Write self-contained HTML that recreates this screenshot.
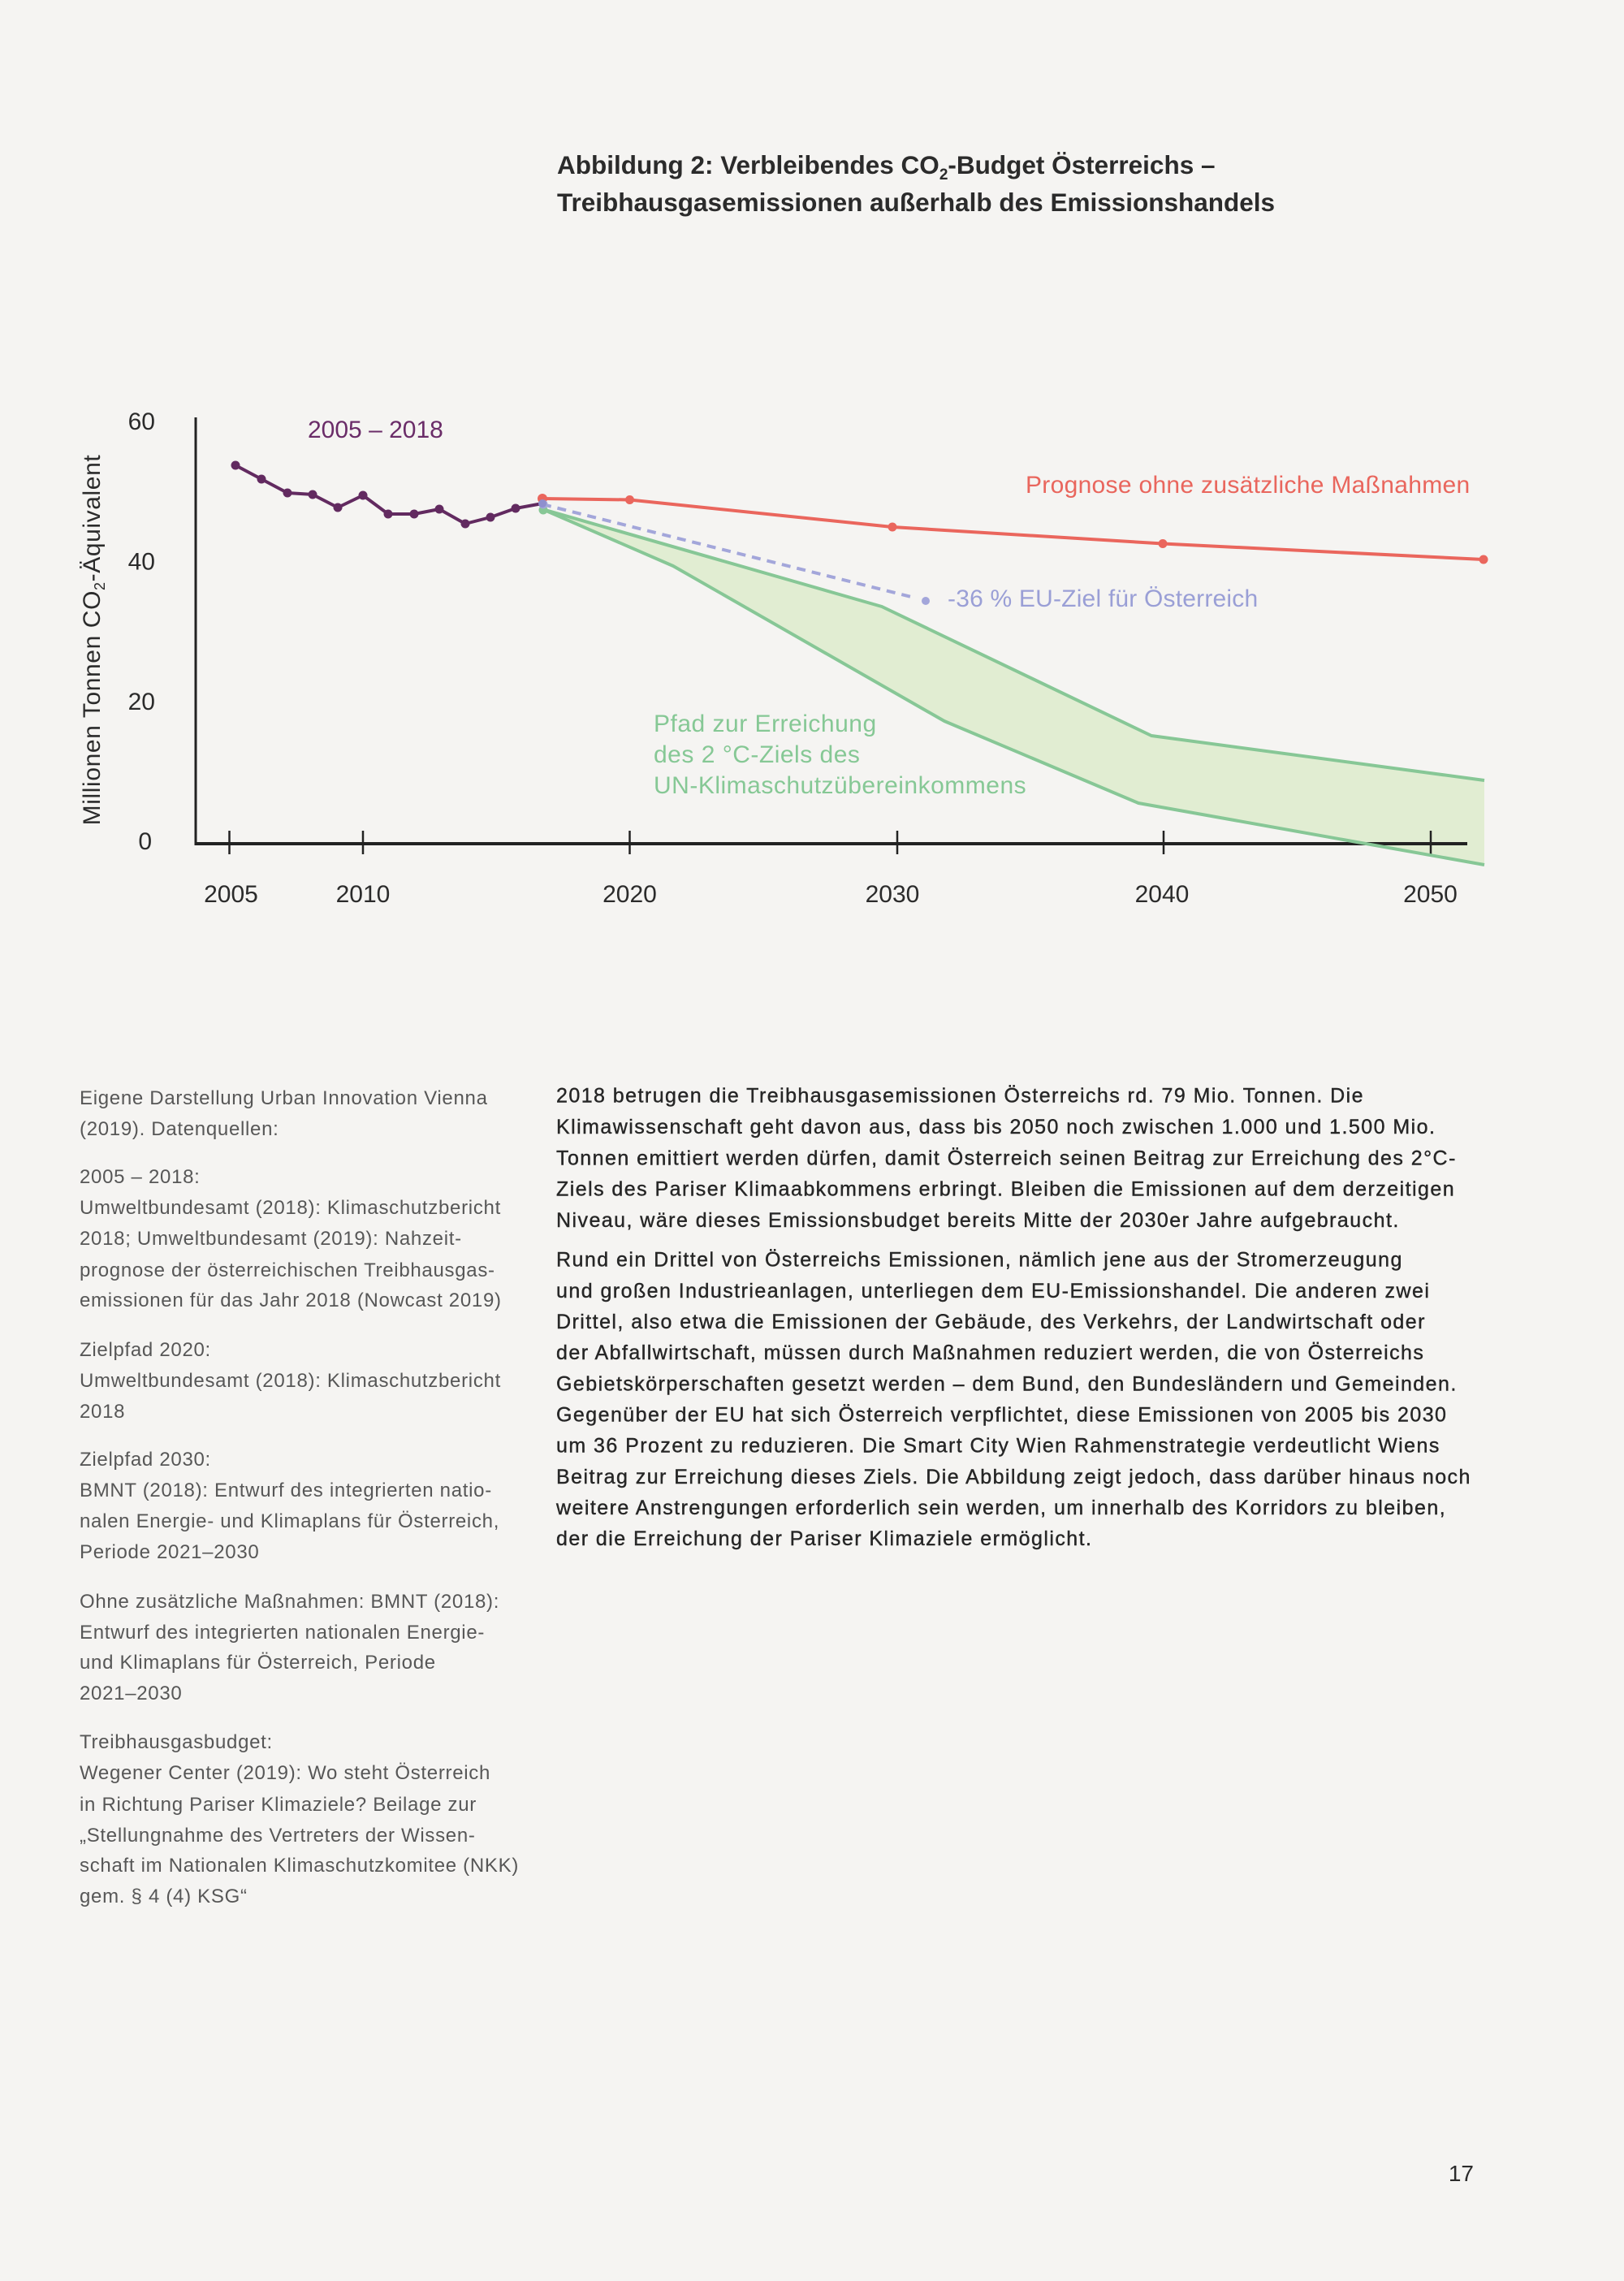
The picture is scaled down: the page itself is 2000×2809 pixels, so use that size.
<!DOCTYPE html>
<html>
<head>
<meta charset="utf-8">
<style>
  html,body{margin:0;padding:0;background:#f5f4f2;}
  svg{display:block;}
  text{font-family:"Liberation Sans",Arial,sans-serif;}
</style>
</head>
<body>
<svg width="2000" height="2809" viewBox="0 0 2000 2809" xmlns="http://www.w3.org/2000/svg">
  <rect x="0" y="0" width="2000" height="2809" fill="#f5f4f2"/>

  <!-- Title -->
  <g font-weight="bold" font-size="31.5" fill="#2b2b2b">
    <text x="686" y="214">Abbildung 2: Verbleibendes CO<tspan font-size="19" dy="7">2</tspan><tspan dy="-7">-Budget Österreichs –</tspan></text>
    <text x="686" y="260">Treibhausgasemissionen außerhalb des Emissionshandels</text>
  </g>

  <!-- Green corridor -->
  <polygon points="668,627 1086,747 1418,906 1828,961 1828,1065 1402,989 1163,888 829,697" fill="#e1edd2"/>

  <!-- Axes -->
  <line x1="241" y1="514" x2="241" y2="1041" stroke="#222" stroke-width="3"/>
  <line x1="239.5" y1="1039" x2="1807" y2="1039" stroke="#222" stroke-width="4"/>
  <g stroke="#222" stroke-width="2.5">
    <line x1="282.5" y1="1023" x2="282.5" y2="1052"/>
    <line x1="447" y1="1023" x2="447" y2="1052"/>
    <line x1="775.5" y1="1023" x2="775.5" y2="1052"/>
    <line x1="1105" y1="1023" x2="1105" y2="1052"/>
    <line x1="1433" y1="1023" x2="1433" y2="1052"/>
    <line x1="1762" y1="1023" x2="1762" y2="1052"/>
  </g>

  <!-- Green lines -->
  <g fill="none" stroke="#87c796" stroke-width="4" stroke-linejoin="round">
    <polyline points="668,627 1086,747 1418,906 1828,961"/>
    <polyline points="668,627 829,697 1163,888 1402,989 1828,1065"/>
  </g>
  <circle cx="669" cy="628" r="5.5" fill="#87c796"/>

  <!-- Blue dashed EU target -->
  <line x1="668" y1="621" x2="1126" y2="736" stroke="#a3a6da" stroke-width="4" stroke-dasharray="11 8"/>
  <circle cx="1140" cy="740" r="5" fill="#a3a6da"/>

  <!-- Red projection -->
  <polyline points="668,614 775.5,615.5 1099,649 1432,669.5 1827,689" fill="none" stroke="#ea665d" stroke-width="4" stroke-linejoin="round"/>
  <g fill="#ea665d">
    <circle cx="668" cy="614" r="6"/>
    <circle cx="775.5" cy="615.5" r="5.5"/>
    <circle cx="1099" cy="649" r="5.5"/>
    <circle cx="1432" cy="669.5" r="5.5"/>
    <circle cx="1827" cy="689" r="5.5"/>
  </g>
  <circle cx="669" cy="621" r="5.5" fill="#a3a6da"/>

  <!-- Purple history -->
  <polyline points="290,573 322,590 354,607 385,609 416,625 447,610 478,633 510,633 541,627 573,645 604,637 635,626 668,620" fill="none" stroke="#622a60" stroke-width="4" stroke-linejoin="round"/>
  <g fill="#622a60">
    <circle cx="290" cy="573" r="5.5"/>
    <circle cx="322" cy="590" r="5.5"/>
    <circle cx="354" cy="607" r="5.5"/>
    <circle cx="385" cy="609" r="5.5"/>
    <circle cx="416" cy="625" r="5.5"/>
    <circle cx="447" cy="610" r="5.5"/>
    <circle cx="478" cy="633" r="5.5"/>
    <circle cx="510" cy="633" r="5.5"/>
    <circle cx="541" cy="627" r="5.5"/>
    <circle cx="573" cy="645" r="5.5"/>
    <circle cx="604" cy="637" r="5.5"/>
    <circle cx="635" cy="626" r="5.5"/>
  </g>
  <circle cx="668" cy="620" r="5" fill="#8f8fce"/>

  <!-- Y tick labels -->
  <g font-size="30" fill="#2b2b2b" text-anchor="end">
    <text x="191" y="529">60</text>
    <text x="191" y="701.5">40</text>
    <text x="191" y="874">20</text>
    <text x="187" y="1046">0</text>
  </g>

  <!-- X tick labels -->
  <g font-size="30" fill="#2b2b2b" text-anchor="middle">
    <text x="284.5" y="1111">2005</text>
    <text x="447" y="1111">2010</text>
    <text x="775.5" y="1111">2020</text>
    <text x="1099" y="1111">2030</text>
    <text x="1431" y="1111">2040</text>
    <text x="1761.5" y="1111">2050</text>
  </g>

  <!-- Y axis title -->
  <text transform="translate(123,788) rotate(-90)" text-anchor="middle" font-size="30" letter-spacing="0.6" fill="#2b2b2b">Millionen Tonnen CO<tspan font-size="18" dy="6">2</tspan><tspan dy="-6">-Äquivalent</tspan></text>

  <!-- Series labels -->
  <text x="379" y="539" font-size="30" fill="#6a2c68">2005 – 2018</text>
  <text x="1263" y="607" font-size="30" letter-spacing="0.3" fill="#e9665d">Prognose ohne zusätzliche Maßnahmen</text>
  <text x="1167" y="747" font-size="30" letter-spacing="0.2" fill="#9a9fd6">-36 % EU-Ziel für Österreich</text>
  <g font-size="30" letter-spacing="0.5" fill="#86c895">
    <text x="805" y="901">Pfad zur Erreichung</text>
    <text x="805" y="939">des 2 °C-Ziels des</text>
    <text x="805" y="977">UN-Klimaschutzübereinkommens</text>
  </g>

  <!-- Left column (sources) -->
  <g font-size="24" letter-spacing="0.7" fill="#575757">
    <text x="98" y="1360">Eigene Darstellung Urban Innovation Vienna</text>
    <text x="98" y="1398">(2019). Datenquellen:</text>

    <text x="98" y="1457">2005 – 2018:</text>
    <text x="98" y="1495">Umweltbundesamt (2018): Klimaschutzbericht</text>
    <text x="98" y="1533">2018; Umweltbundesamt (2019): Nahzeit-</text>
    <text x="98" y="1572">prognose der österreichischen Treibhausgas-</text>
    <text x="98" y="1609">emissionen für das Jahr 2018 (Nowcast 2019)</text>

    <text x="98" y="1670">Zielpfad 2020:</text>
    <text x="98" y="1708">Umweltbundesamt (2018): Klimaschutzbericht</text>
    <text x="98" y="1746">2018</text>

    <text x="98" y="1805">Zielpfad 2030:</text>
    <text x="98" y="1843">BMNT (2018): Entwurf des integrierten natio-</text>
    <text x="98" y="1881">nalen Energie- und Klimaplans für Österreich,</text>
    <text x="98" y="1919">Periode 2021–2030</text>

    <text x="98" y="1980">Ohne zusätzliche Maßnahmen: BMNT (2018):</text>
    <text x="98" y="2018">Entwurf des integrierten nationalen Energie-</text>
    <text x="98" y="2055">und Klimaplans für Österreich, Periode</text>
    <text x="98" y="2093">2021–2030</text>

    <text x="98" y="2153">Treibhausgasbudget:</text>
    <text x="98" y="2191">Wegener Center (2019): Wo steht Österreich</text>
    <text x="98" y="2230">in Richtung Pariser Klimaziele? Beilage zur</text>
    <text x="98" y="2268">„Stellungnahme des Vertreters der Wissen-</text>
    <text x="98" y="2305">schaft im Nationalen Klimaschutzkomitee (NKK)</text>
    <text x="98" y="2343">gem. § 4 (4) KSG“</text>
  </g>

  <!-- Right column (body text) -->
  <g font-size="25" letter-spacing="1.45" fill="#262626" stroke="#262626" stroke-width="0.4">
    <text x="685" y="1357.5">2018 betrugen die Treibhausgasemissionen Österreichs rd. 79 Mio. Tonnen. Die</text>
    <text x="685" y="1396">Klimawissenschaft geht davon aus, dass bis 2050 noch zwischen 1.000 und 1.500 Mio.</text>
    <text x="685" y="1434.5">Tonnen emittiert werden dürfen, damit Österreich seinen Beitrag zur Erreichung des 2°C-</text>
    <text x="685" y="1472.5">Ziels des Pariser Klimaabkommens erbringt. Bleiben die Emissionen auf dem derzeitigen</text>
    <text x="685" y="1511">Niveau, wäre dieses Emissionsbudget bereits Mitte der 2030er Jahre aufgebraucht.</text>

    <text x="685" y="1559.5">Rund ein Drittel von Österreichs Emissionen, nämlich jene aus der Stromerzeugung</text>
    <text x="685" y="1598">und großen Industrieanlagen, unterliegen dem EU-Emissionshandel. Die anderen zwei</text>
    <text x="685" y="1636">Drittel, also etwa die Emissionen der Gebäude, des Verkehrs, der Landwirtschaft oder</text>
    <text x="685" y="1674">der Abfallwirtschaft, müssen durch Maßnahmen reduziert werden, die von Österreichs</text>
    <text x="685" y="1712.5">Gebietskörperschaften gesetzt werden – dem Bund, den Bundesländern und Gemeinden.</text>
    <text x="685" y="1750.5">Gegenüber der EU hat sich Österreich verpflichtet, diese Emissionen von 2005 bis 2030</text>
    <text x="685" y="1788.5">um 36 Prozent zu reduzieren. Die Smart City Wien Rahmenstrategie verdeutlicht Wiens</text>
    <text x="685" y="1827">Beitrag zur Erreichung dieses Ziels. Die Abbildung zeigt jedoch, dass darüber hinaus noch</text>
    <text x="685" y="1865">weitere Anstrengungen erforderlich sein werden, um innerhalb des Korridors zu bleiben,</text>
    <text x="685" y="1903">der die Erreichung der Pariser Klimaziele ermöglicht.</text>
  </g>

  <!-- Page number -->
  <text x="1815" y="2686" font-size="28" fill="#2b2b2b" text-anchor="end">17</text>
</svg>
</body>
</html>
